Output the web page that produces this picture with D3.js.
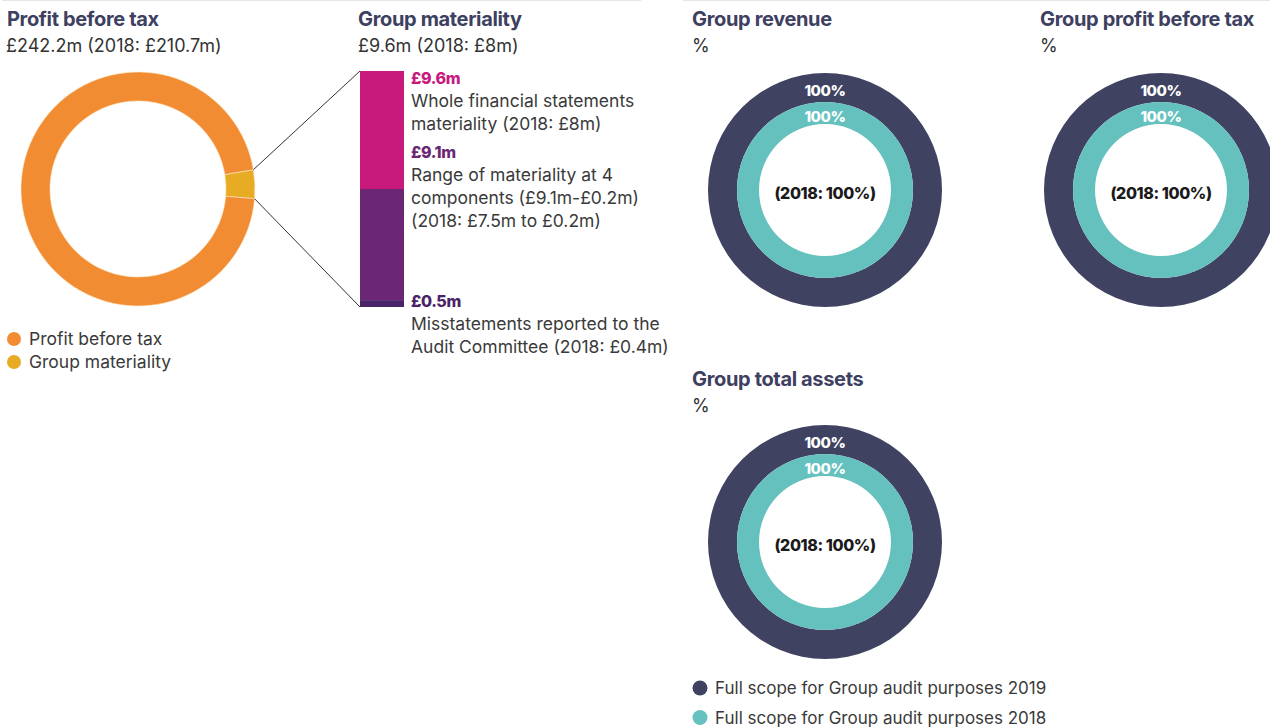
<!DOCTYPE html>
<html lang="en">
<head>
<meta charset="utf-8">
<script src="https://d3js.org/d3.v7.min.js"></script>
<style type="text/css">
body {
	margin: 0;
	background: #fff;
}
text {
	font-family: Inter, "Noto Sans", sans-serif;
}
.title {
	font-weight: 700;
	font-size: 20px;
	fill: #3d4060;
	letter-spacing: -0.35px;
}
.sub {
	font-size: 18px;
	fill: #333;
}
.note {
	font-size: 17.5px;
	fill: #3a3a3a;
}
.legend-b {
	font-size: 17px;
}
.big {
	font-weight: 800;
	font-size: 16px;
	letter-spacing: -0.4px;
}
</style>
</head>
<body>
<script type="text/javascript">

// Profit before tax and Group materiality (£m)
var profitBeforeTax = 242.2;
var groupMateriality = 9.6;
var pbtNames = ["Group materiality", "Profit before tax"];
var pbtValues = [groupMateriality, profitBeforeTax - groupMateriality];
var pbtColors = ["#e8ab24", "#f28c33"];

// materiality bar (schematic stacking, £m, bottom to top)
var barLabels = ["£0.5m", "£9.1m", "£9.6m"];
var barFrom = [0, 0.28, 4.8];
var barTo = [0.28, 4.8, 9.6];
var barColors = ["#4a2368", "#6b2773", "#c81a7d"];
var barNotes = [
  ["Misstatements reported to the", "Audit Committee (2018: £0.4m)"],
  ["Range of materiality at 4", "components (£9.1m-£0.2m)", "(2018: £7.5m to £0.2m)"],
  ["Whole financial statements", "materiality (2018: £8m)"]
];

// audit scope (%)
var scopePanels = ["Group revenue", "Group profit before tax", "Group total assets"];
var scope2019 = [100, 100, 100];
var scope2018 = [100, 100, 100];
var scopePrior = [100, 100, 100];
var scopeNames = ["Full scope for Group audit purposes 2019", "Full scope for Group audit purposes 2018"];
var scopeColors = ["#3f4361", "#65c1bd"];

var width = 1270;
var height = 727;

var svg = d3.select("body")
            .append("svg")
            .attr("width", width)
            .attr("height", height);

// thin rules along the top
svg.append("line").attr("x1", 2).attr("x2", 641).attr("y1", 0.5).attr("y2", 0.5)
   .style("stroke", "#e6e6e6");
svg.append("line").attr("x1", 683).attr("x2", width).attr("y1", 0.5).attr("y2", 0.5)
   .style("stroke", "#e6e6e6");

// ---- Profit before tax donut
svg.append("text").attr("class", "title").attr("x", 7).attr("y", 26).text("Profit before tax");
svg.append("text").attr("class", "sub").attr("x", 6).attr("y", 52).text("£242.2m (2018: £210.7m)");

var cx = 138, cy = 189, rOut = 117, rIn = 88;
var startA = 80.5 * Math.PI / 180;

var pie = d3.pie().sort(null)
            .startAngle(startA)
            .endAngle(startA + 2 * Math.PI);
var arc = d3.arc().innerRadius(rIn).outerRadius(rOut);

var g1 = svg.append("g").attr("transform", "translate(" + cx + "," + cy + ")");
var slices = pie(pbtValues);
g1.selectAll("path")
  .data(slices)
  .enter()
  .append("path")
  .attr("d", arc)
  .style("fill", function(d, i) { return pbtColors[i]; })
  .style("stroke", "#fbe7c4")
  .style("stroke-width", 0.6);

// ---- materiality bar
svg.append("text").attr("class", "title").attr("x", 358).attr("y", 26).text("Group materiality");
svg.append("text").attr("class", "sub").attr("x", 358).attr("y", 52).text("£9.6m (2018: £8m)");

var barX = 360, barW = 44;
var y = d3.scaleLinear().domain([0, groupMateriality]).range([307, 71]);

svg.selectAll(".seg")
   .data(barFrom)
   .enter()
   .append("rect")
   .attr("class", "seg")
   .attr("x", barX)
   .attr("width", barW)
   .attr("y", function(d, i) { return y(barTo[i]); })
   .attr("height", function(d, i) { return y(barFrom[i]) - y(barTo[i]); })
   .style("fill", function(d, i) { return barColors[i]; });

// zoom lines from the materiality slice to the bar
var s = slices[0];
var pTop = [cx + rOut * Math.sin(s.startAngle), cy - rOut * Math.cos(s.startAngle)];
var pBot = [cx + rOut * Math.sin(s.endAngle), cy - rOut * Math.cos(s.endAngle)];
svg.append("line")
   .attr("x1", pTop[0]).attr("y1", pTop[1])
   .attr("x2", barX).attr("y2", y(groupMateriality))
   .style("stroke", "#333").style("stroke-width", 1);
svg.append("line")
   .attr("x1", pBot[0]).attr("y1", pBot[1])
   .attr("x2", barX).attr("y2", y(0))
   .style("stroke", "#333").style("stroke-width", 1);

// bar annotations
var noteTop = [307, 158, 84];
barLabels.forEach(function(lab, i) {
  svg.append("text").attr("class", "big")
     .attr("x", 411).attr("y", noteTop[i])
     .style("fill", barColors[i])
     .text(lab);
  svg.selectAll(null)
     .data(barNotes[i])
     .enter()
     .append("text")
     .attr("class", "note")
     .attr("x", 411)
     .attr("y", function(d, j) { return noteTop[i] + 23 + j * 23; })
     .text(function(d) { return d; });
});

// left legend
var leg1 = svg.selectAll(".leg1")
              .data(pbtNames.slice().reverse())
              .enter()
              .append("g")
              .attr("transform", function(d, i) { return "translate(14," + (339 + i * 23) + ")"; });
leg1.append("circle").attr("r", 7)
    .style("fill", function(d, i) { return pbtColors[1 - i]; });
leg1.append("text").attr("class", "note").attr("x", 15).attr("y", 6)
    .text(function(d) { return d; });

// ---- audit scope donuts
var panelPos = [[825, 190], [1161, 190], [825, 542]];
var titlePos = [[692, 26], [1040, 26], [692, 386]];
var outerArc = d3.arc().innerRadius(88).outerRadius(117);
var innerArc = d3.arc().innerRadius(66).outerRadius(88);
var scopePie = d3.pie().sort(null);

scopePanels.forEach(function(name, i) {
  svg.append("text").attr("class", "title")
     .attr("x", titlePos[i][0]).attr("y", titlePos[i][1]).text(name);
  svg.append("text").attr("class", "sub")
     .attr("x", titlePos[i][0]).attr("y", titlePos[i][1] + 26).text("%");

  var g = svg.append("g").attr("transform", "translate(" + panelPos[i][0] + "," + panelPos[i][1] + ")");
  g.selectAll(".o")
   .data(scopePie([scope2019[i], 100 - scope2019[i]]))
   .enter().append("path")
   .attr("d", outerArc)
   .style("fill", function(d, k) { return k == 0 ? scopeColors[0] : "#e8e8e8"; });
  g.selectAll(".in")
   .data(scopePie([scope2018[i], 100 - scope2018[i]]))
   .enter().append("path")
   .attr("d", innerArc)
   .style("fill", function(d, k) { return k == 0 ? scopeColors[1] : "#e8e8e8"; });

  g.append("text").attr("class", "big")
   .attr("text-anchor", "middle").attr("y", -94)
   .style("fill", "#fff").style("font-size", "15px")
   .text(scope2019[i] + "%");
  g.append("text").attr("class", "big")
   .attr("text-anchor", "middle").attr("y", -68)
   .style("fill", "#fff").style("font-size", "15px")
   .text(scope2018[i] + "%");
  g.append("text").attr("class", "big")
   .attr("text-anchor", "middle").attr("y", 9)
   .style("fill", "#1a1a1a")
   .text("(2018: " + scopePrior[i] + "%)");
});

// bottom legend
var leg2 = svg.selectAll(".leg2")
              .data(scopeNames)
              .enter()
              .append("g")
              .attr("transform", function(d, i) { return "translate(700," + (688 + i * 29.5) + ")"; });
leg2.append("circle").attr("r", 7.5)
    .style("fill", function(d, i) { return scopeColors[i]; });
leg2.append("text").attr("class", "note legend-b").attr("x", 15).attr("y", 6)
    .text(function(d) { return d; });

</script>
</body>
</html>
